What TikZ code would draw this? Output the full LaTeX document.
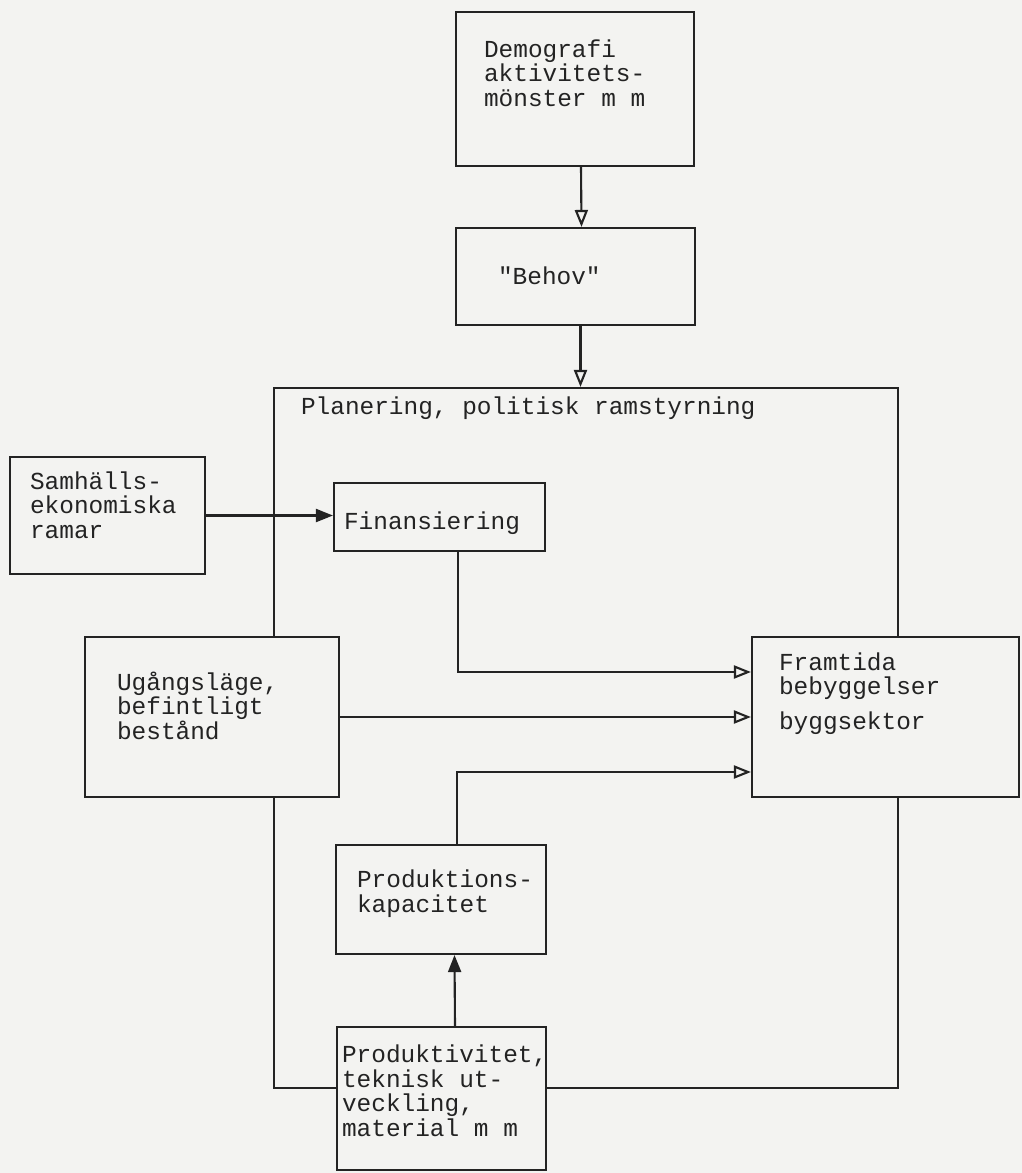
\documentclass[tikz,border=0pt]{standalone}
\usepackage{fontspec}
\setmonofont{Liberation Mono}
\usetikzlibrary{arrows.meta, fit}

\definecolor{paper}{RGB}{243,243,241}
\definecolor{ink}{RGB}{35,35,35}

\begin{document}
\begin{tikzpicture}[
        x = 0.2mm, y = -0.2mm, % one unit per pixel, y going down
        > = {Triangle[open, length=3.4mm, width=2.6mm]}, % arrow head style
        line width = 1.2pt, % line style
        color = ink
    ]

    \tikzstyle{box}=[
        draw = ink,
        fill = paper,
        rectangle,
        inner sep = 0pt
    ]
    \tikzstyle{txt}=[
        text = ink,
        font = \ttfamily\fontsize{13.9pt}{13.9pt}\selectfont,
        align = left,
        inner sep = 0pt
    ]
    \tikzstyle{arr}=[->]
    \tikzstyle{arrf}=[-{Triangle[length=3.4mm, width=2.6mm]}]

    % paper
    \fill[paper] (0,0) rectangle (1022,1173);
    \useasboundingbox (0,0) rectangle (1022,1173);

    % frame
    \node[box, fill=none, fit={(274,388) (898,1088)}] (plan) {};
    \node[txt, anchor=base west] (plan-t) at (300,414) {Planering, politisk ramstyrning};

    % boxes
    \node[box, fit={(456,12) (694,166)}] (demo) {};
    \node[box, fit={(456,228) (695,325)}] (behov) {};
    \node[box, fit={(10,457) (205,574)}] (samh) {};
    \node[box, fit={(334,483) (545,551)}] (fin) {};
    \node[box, fit={(85,637) (339,797)}] (ugang) {};
    \node[box, fit={(752,637) (1019,797)}] (framt) {};
    \node[box, fit={(336,845) (546,954)}] (kap) {};
    \node[box, fit={(337,1027) (546,1170)}] (prod) {};

    % texts (base = last line)
    \node[txt, anchor=base west] (demo-t) at (483,106) {Demografi\\aktivitets-\\mönster m m};
    \node[txt, anchor=base west] (behov-t) at (497,284) {"Behov"};
    \node[txt, anchor=base west] (samh-t) at (29,538) {Samhälls-\\ekonomiska\\ramar};
    \node[txt, anchor=base west] (fin-t) at (343,529) {Finansiering};
    \node[txt, anchor=base west] (ugang-t) at (116,739) {Ugångsläge,\\befintligt\\bestånd};
    \node[txt, anchor=base west] (framt-t) at (778,729) {Framtida\\bebyggelser\\[2mm]byggsektor};
    \node[txt, anchor=base west] (kap-t) at (356,912) {Produktions-\\kapacitet};
    \node[txt, anchor=base west] (prod-t) at (341,1136) {Produktivitet,\\teknisk ut-\\veckling,\\material m m};

    % connectors
    \draw[arr] ([xshift=1.2mm]demo.south) -- ([xshift=1.2mm]behov.north);
    \draw[arr] ([xshift=1mm]behov.south) -- ([xshift=1mm]behov.south |- plan.north);
    \draw[arrf] (samh.east) -- (samh.east -| fin.west);
    \draw[arr] ([xshift=3.7mm]fin.south) |- ([yshift=9mm]framt.west);
    \draw[arr] (ugang.east) -- (framt.west);
    \draw[arr] ([xshift=3.2mm]kap.north) |- ([yshift=-11mm]framt.west);
    \draw[arrf] ([xshift=2.7mm]prod.north) -- ([xshift=2.7mm]kap.south);

\end{tikzpicture}
\end{document}
